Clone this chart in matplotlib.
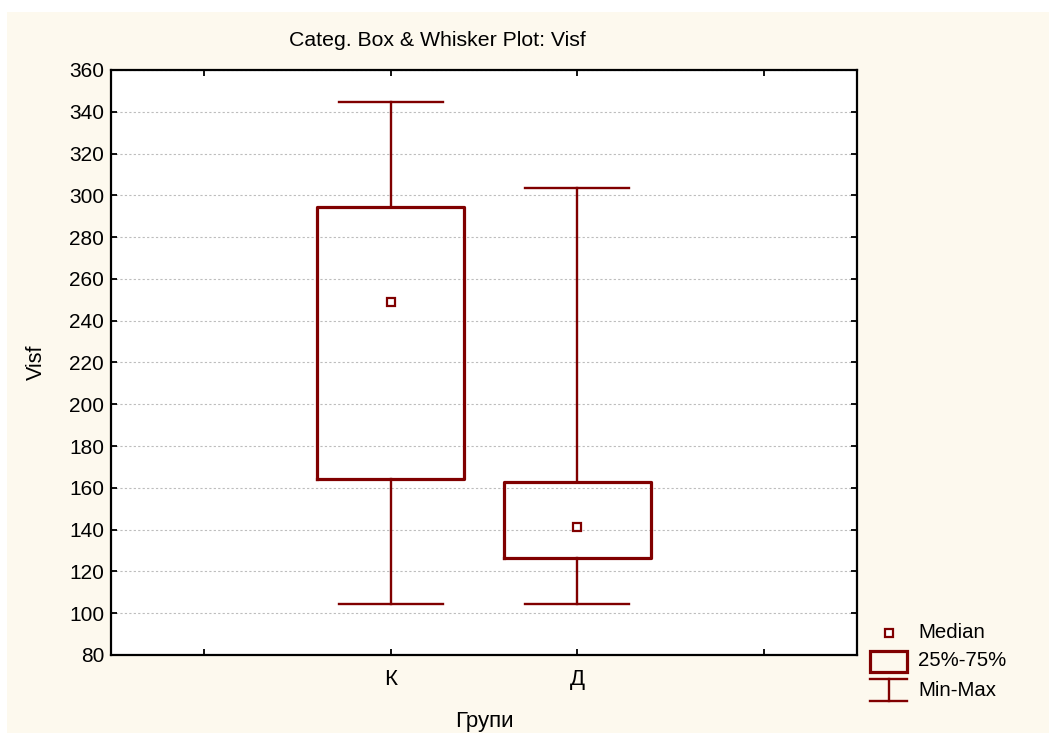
import matplotlib
matplotlib.use("Agg")
import matplotlib.pyplot as plt
from matplotlib.patches import Rectangle
from matplotlib.lines import Line2D

plt.rcParams['font.family'] = ['Liberation Sans', 'DejaVu Sans']

# summary values
groups = ['К', 'Д']
medians = [249, 141.5]
q1 = [164, 126.5]
q3 = [294.5, 163]
mins = [104.5, 104.5]
maxs = [344.5, 303.5]

dark_red = '#800000'
cream = '#FDF9EE'

fig = plt.figure(figsize=(10.49, 7.33), dpi=100)
fig.patch.set_facecolor('white')
fig.patches.append(Rectangle((7 / 1049, 0), 1, 1 - 12 / 733, transform=fig.transFigure,
                             facecolor=cream, edgecolor='none', zorder=-10))

ax = fig.add_axes([111 / 1049, 1 - 655 / 733, 746 / 1049, 585 / 733])
ax.set_facecolor('white')

positions = [1.5, 2.5]
stats = []
for i, g in enumerate(groups):
    stats.append(dict(label=g, med=medians[i], q1=q1[i], q3=q3[i],
                      whislo=mins[i], whishi=maxs[i], fliers=[]))

ax.bxp(stats, positions=positions, widths=0.79, capwidths=0.56,
       showfliers=False,
       boxprops=dict(color=dark_red, linewidth=2.3),
       whiskerprops=dict(color=dark_red, linewidth=1.7),
       capprops=dict(color=dark_red, linewidth=1.7),
       medianprops=dict(linestyle='none'))
ax.plot(positions, medians, linestyle='none', marker='s', markersize=5.5,
        markerfacecolor='white', markeredgecolor=dark_red, markeredgewidth=1.6, zorder=5)

ax.set_xlim(0, 4)
ax.set_xticks([0.5, 1.5, 2.5, 3.5])
ax.set_xticklabels(['', 'К', 'Д', ''])
ax.set_ylim(80, 360)
ax.set_yticks(range(80, 361, 20))

ax.yaxis.grid(True, linestyle=(0, (2, 2)), color='#BDBDBD', linewidth=0.8)
ax.set_axisbelow(True)
for s in ax.spines.values():
    s.set_linewidth(1.6)
    s.set_color('black')
ax.tick_params(direction='in', length=4, width=1.3, labelsize=15,
               top=True, right=True, pad=5)
ax.tick_params(axis='x', labelsize=16, pad=10)

ax.set_ylabel('Visf', fontsize=15.5, labelpad=16)
ax.set_xlabel('Групи', fontsize=16, labelpad=15)
fig.text(437 / 1049, 1 - 41 / 733, 'Categ. Box & Whisker Plot: Visf',
         ha='center', va='center', fontsize=15.3)

# legend drawn in a small axes at the lower right
lg = fig.add_axes([860 / 1049, 1 - 712 / 733, 185 / 1049, 95 / 733])
lg.set_xlim(0, 185)
lg.set_ylim(95, 0)
lg.axis('off')
lg.plot([29], [16], marker='s', markersize=5.5, markerfacecolor='white',
        markeredgecolor=dark_red, markeredgewidth=1.6, linestyle='none')
lg.add_patch(Rectangle((10, 34), 37, 21, fill=False, edgecolor=dark_red, linewidth=2.3))
lg.add_line(Line2D([10, 47], [62, 62], color=dark_red, linewidth=1.7))
lg.add_line(Line2D([10, 47], [84, 84], color=dark_red, linewidth=1.7))
lg.add_line(Line2D([29, 29], [62, 84], color=dark_red, linewidth=1.7))
for yy, txt in [(16, 'Median'), (44, '25%-75%'), (73, 'Min-Max')]:
    lg.text(58, yy, txt, fontsize=14.7, va='center', ha='left')

fig.savefig('out.png', dpi=100, facecolor=fig.get_facecolor())
